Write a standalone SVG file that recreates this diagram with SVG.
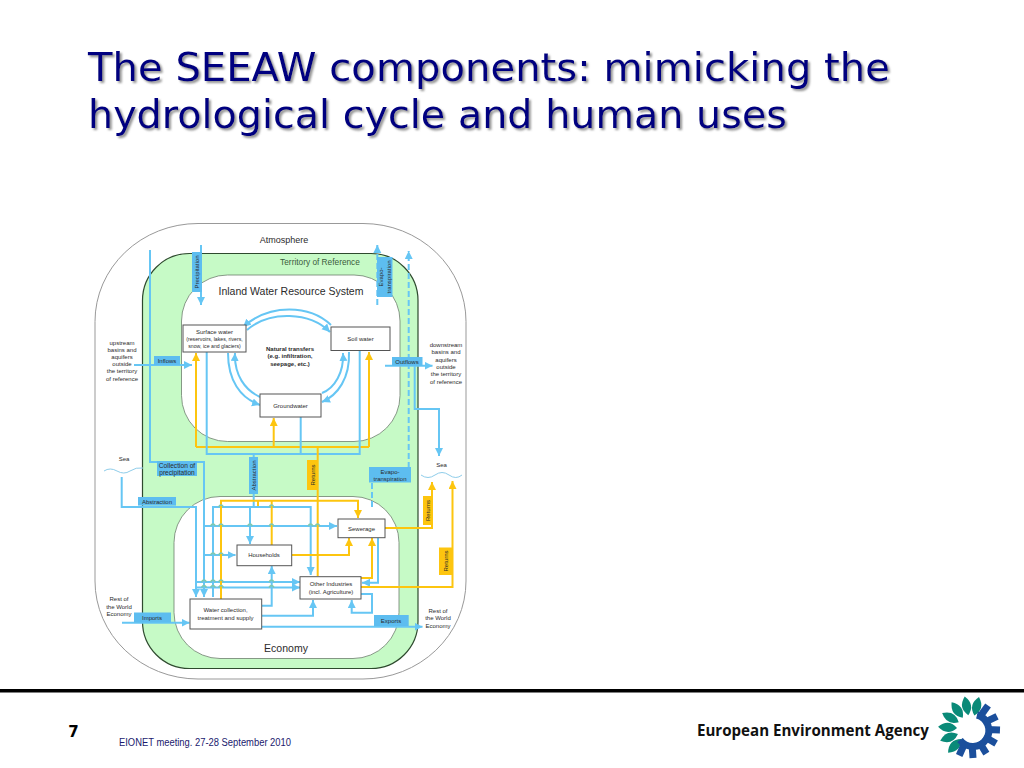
<svg xmlns="http://www.w3.org/2000/svg" width="1024" height="768" viewBox="0 0 1024 768">
<style>
text{font-family:"Liberation Sans",Arial,sans-serif;fill:#2b2b2b;text-anchor:middle}
.t{font-family:"DejaVu Sans",Verdana,sans-serif;font-size:39.500px;fill:#000080;text-anchor:start;filter:url(#sh)}
.s{font-size:6px}
.box{fill:#fff;stroke:#555;stroke-width:1}
.b{fill:none;stroke:#66c6f4;stroke-width:2}
.y{fill:none;stroke:#fdc50f;stroke-width:2}
.d{stroke-dasharray:6 3}
.ah{marker-end:url(#ab)}.ay{marker-end:url(#ay)}
.lb{fill:#5dbdf0}.ly{fill:#fdc50f}
</style>
<defs>
<filter id="sh" x="-5%" y="-10%" width="110%" height="125%"><feDropShadow dx="2" dy="2" stdDeviation="1" flood-color="#777" flood-opacity=".8"/></filter>
<marker id="ab" markerUnits="userSpaceOnUse" markerWidth="9" markerHeight="9" refX="8" refY="4" orient="auto"><path d="M0,0L8,4L0,8Z" fill="#66c6f4"/></marker>
<marker id="ay" markerUnits="userSpaceOnUse" markerWidth="9" markerHeight="9" refX="8" refY="4" orient="auto"><path d="M0,0L8,4L0,8Z" fill="#fdc50f"/></marker>
<path id="petal" d="M0,-14Q9,-23 0,-33Q-9,-23 0,-14Z"/>
<path id="tooth" d="M-3.500,-29h7v14h-7z"/>
</defs>
<rect width="1024" height="768" fill="#fff"/>
<text class="t" x="88" y="81" textLength="802" lengthAdjust="spacingAndGlyphs">The SEEAW components: mimicking the</text>
<text class="t" x="88" y="128" textLength="699" lengthAdjust="spacingAndGlyphs">hydrological cycle and human uses</text>

<g id="atmosphere"><rect x="95" y="223.500" width="371" height="455.500" rx="103" ry="98" fill="#fff" stroke="#999" stroke-width="1"/><text x="284" y="243" font-size="9">Atmosphere</text></g>
<g id="territory"><rect x="142.500" y="253.500" width="275.500" height="415" rx="47" ry="47" fill="#c6fac6" stroke="#2e4a2e" stroke-width="1.200"/><text x="320" y="264.500" font-size="8.300" style="fill:#3b5b3b">Territory of Reference</text></g>
<g id="inland"><rect x="181.500" y="275" width="218.500" height="166.500" rx="46" ry="46" fill="#fff" stroke="#6d7f6d" stroke-width=".8"/><text x="291" y="294.500" font-size="10.500">Inland Water Resource System</text></g>
<g id="economy"><rect x="174" y="496.500" width="225" height="162" rx="46" ry="46" fill="#fff" stroke="#6d7f6d" stroke-width=".8"/><text x="286" y="652" font-size="10.500">Economy</text></g>

<g id="connectors">
<path class="y" d="M196,447H369"/>
<path class="y ay" d="M196,447V353"/>
<path class="y ay" d="M369,447V352"/>
<path class="y ay" d="M273.700,447V418"/>
<path class="b" d="M206.700,352V454H359.700V351"/>
<path class="b" d="M300.700,417V454"/>
<path class="b ah" d="M150,250V462H204V597"/>
<path class="b ah" d="M201,245V305"/>
<path class="b ah" d="M134,365H192"/>
<path class="b ah" d="M385,365.700H432.500"/>
<path class="b ah" d="M414.700,366V409H439V456"/>
<path class="b d ah" d="M377.300,305V245"/>
<path class="b d ah" d="M408.700,468V251"/>
<path class="b d" d="M372,483V508"/>
<path class="b ah" d="M331,325C310,305 270,303 243,327"/>
<path class="b ah" d="M247,330C270,310 310,312 330,332"/>
<path class="b ah" d="M228,353C228,380 240,398 260,405"/>
<path class="b ah" d="M260,397C245,390 234,375 235,353"/>
<path class="b ah" d="M322,393C335,388 344,372 343,353"/>
<path class="b ah" d="M349,352C350,378 338,395 322,402"/>
<path class="b" d="M253.700,454V507"/>
<path class="b ah" d="M121.700,477V507H196V597"/>
<path class="b ah" d="M213,597V507H310.700V575"/>
<path class="b ah" d="M250,507V544"/>
<path class="b ah" d="M204,526H337"/>
<path class="b ah" d="M204,555H235.500"/>
<path class="b ah" d="M196,582H300"/>
<path class="b ah" d="M196,587.500H300"/>
<path class="b ah" d="M262,605.700H271.700V566"/>
<path class="b ah" d="M262,615.700H313V600"/>
<path class="b ah" d="M262,626.700H422.500"/>
<path class="b ah" d="M122,622.700H189.500"/>
<path class="b ah" d="M361,594H372V612.700H351.700V600"/>
<path class="b ah" d="M378,538V582.700H362"/>
<path class="y ay" d="M221,599V500.700H358V518"/>
<path class="y" d="M271.700,501V545"/>
<path class="y" d="M258,501V506"/>
<path class="y" d="M317.700,447V576"/>
<path class="y ay" d="M292,555H349V538"/>
<path class="y ay" d="M361,578H372V538"/>
<path class="y ay" d="M385,528H432V482"/>
<path class="y ay" d="M361,587H452.500V481"/>
<path d="M210.500,526q2.500,-4 5,0M218.500,526q2.500,-4 5,0M247.500,526q2.500,-4 5,0M269,526q2.500,-4 5,0M308,526q2.500,-4 5,0M315,526q2.500,-4 5,0M218.500,507q2.500,-4 5,0M269,507q2.500,-4 5,0M210.500,555q2.500,-4 5,0M218.500,555q2.500,-4 5,0M201.500,582q2.500,-4 5,0M210.500,582q2.500,-4 5,0M218.500,582q2.500,-4 5,0M269,582q2.500,-4 5,0M201.500,587.500q2.500,-4 5,0M210.500,587.500q2.500,-4 5,0M218.500,587.500q2.500,-4 5,0M269,587.500q2.500,-4 5,0" fill="none" stroke="#7fc9b0" stroke-width="1.500"/>
<path d="M104,471q6,-4 13,0t13,0t13,-3" fill="none" stroke="#8fcdea" stroke-width="1"/>
<path d="M421,475q7,5 14,0t14,0t13,0" fill="none" stroke="#8fcdea" stroke-width="1"/>
</g>

<g id="label-precipitation"><rect class="lb" x="192" y="252" width="10" height="40"/><text class="s" transform="translate(199,272) rotate(-90)">Precipitation</text></g>
<g id="label-evapo-top"><rect class="lb" x="377" y="257" width="15.500" height="40"/><text class="s" transform="translate(383,277) rotate(-90)">Evapo-</text><text class="s" transform="translate(391,277) rotate(-90)">transpiration</text></g>
<g id="label-inflows"><rect class="lb" x="154" y="356" width="26" height="9"/><text class="s" x="167" y="362.500">Inflows</text></g>
<g id="label-outflows"><rect class="lb" x="392" y="357" width="30.500" height="8.700"/><text class="s" x="407" y="363.500">Outflows</text></g>
<g id="label-collection"><rect class="lb" x="157" y="461" width="40" height="15"/><text class="s" x="177" y="467.500" style="font-size:6.600px">Collection of</text><text class="s" x="177" y="474.500" style="font-size:6.600px">precipitation</text></g>
<g id="label-abstraction-v"><rect class="lb" x="249" y="457" width="9" height="37"/><text class="s" transform="translate(255.500,475.500) rotate(-90)">Abstraction</text></g>
<g id="label-returns-1"><rect class="ly" x="307" y="460" width="11" height="30"/><text class="s" transform="translate(314.500,475) rotate(-90)">Returns</text></g>
<g id="label-evapo-low"><rect class="lb" x="369" y="467" width="42" height="15.500"/><text class="s" x="390" y="473.500">Evapo-</text><text class="s" x="390" y="480.500">transpiration</text></g>
<g id="label-abstraction-h"><rect class="lb" x="138" y="497" width="38" height="8.600"/><text class="s" x="157" y="503.500">Abstraction</text></g>
<g id="label-returns-2"><rect class="ly" x="423" y="496" width="9" height="29"/><text class="s" transform="translate(429.500,510.500) rotate(-90)">Returns</text></g>
<g id="label-returns-3"><rect class="ly" x="439" y="547.500" width="13" height="27.500"/><text class="s" transform="translate(447.500,561) rotate(-90)">Returns</text></g>
<g id="label-imports"><rect class="lb" x="134" y="612.500" width="37" height="10"/><text class="s" x="152" y="620">Imports</text></g>
<g id="label-exports"><rect class="lb" x="374" y="615" width="34.700" height="11"/><text class="s" x="391" y="622.500">Exports</text></g>

<g id="surface-water"><rect class="box" x="183" y="325" width="63" height="27"/><text class="s" x="214.500" y="334">Surface water</text><text x="214.500" y="341" font-size="5.200">(reservoirs, lakes, rivers,</text><text x="214.500" y="347.500" font-size="5.200">snow, ice and glaciers)</text></g>
<g id="soil-water"><rect class="box" x="331" y="327" width="59" height="23.500"/><text class="s" x="360.500" y="341">Soil water</text></g>
<g id="groundwater"><rect class="box" x="260" y="394" width="61" height="23"/><text class="s" x="290.500" y="407.500">Groundwater</text></g>
<g id="natural-transfers"><text class="s" x="290" y="351" font-weight="bold">Natural transfers</text><text class="s" x="290" y="358" font-weight="bold">(e.g. infiltration,</text><text class="s" x="290" y="365.500" font-weight="bold">seepage, etc.)</text></g>
<g id="sewerage"><rect class="box" x="338" y="519" width="47" height="18.700"/><text class="s" x="361.500" y="530.500">Sewerage</text></g>
<g id="households"><rect class="box" x="237" y="545" width="54.700" height="20.700"/><text class="s" x="264" y="557">Households</text></g>
<g id="other-industries"><rect class="box" x="300" y="576.700" width="61" height="22.300"/><text class="s" x="331" y="586">Other Industries</text><text class="s" x="331" y="593.500">(incl. Agriculture)</text></g>
<g id="water-collection"><rect class="box" x="190" y="599" width="71.700" height="30"/><text class="s" x="225.500" y="612">Water collection,</text><text class="s" x="225.500" y="619.500">treatment and supply</text></g>

<g id="upstream"><text class="s" x="122" y="345">upstream</text><text class="s" x="122" y="352">basins and</text><text class="s" x="122" y="359">aquifers</text><text class="s" x="122" y="366">outside</text><text class="s" x="122" y="373">the territory</text><text class="s" x="122" y="380.500">of reference</text></g>
<g id="downstream"><text class="s" x="446" y="347">downstream</text><text class="s" x="446" y="354">basins and</text><text class="s" x="446" y="361.500">aquifers</text><text class="s" x="446" y="369">outside</text><text class="s" x="446" y="376">the territory</text><text class="s" x="446" y="383.500">of reference</text></g>
<g id="sea-left"><text class="s" x="124" y="461">Sea</text></g>
<g id="sea-right"><text class="s" x="441.500" y="467">Sea</text></g>
<g id="rest-left"><text class="s" x="119" y="601">Rest of</text><text class="s" x="119" y="608.500">the World</text><text class="s" x="119" y="616">Economy</text></g>
<g id="rest-right"><text class="s" x="438" y="612.500">Rest of</text><text class="s" x="438" y="620">the World</text><text class="s" x="438" y="628">Economy</text></g>

<rect x="0" y="689" width="1024" height="3.500" fill="#000"/>
<text x="73.500" y="737" font-size="15" font-weight="bold" style="fill:#000;font-family:'DejaVu Sans',sans-serif">7</text>
<text x="119" y="746" font-size="10" textLength="172" lengthAdjust="spacingAndGlyphs" style="text-anchor:start;fill:#1a1a6e">EIONET meeting. 27-28 September 2010</text>
<text x="697" y="736" font-size="15.100" font-weight="bold" style="text-anchor:start;fill:#111;font-family:'Open Sans',sans-serif">European Environment Agency</text>
<g id="eea-logo" transform="translate(971,729)">
<g fill="#0a8a78"><use href="#petal" transform="rotate(14)"/><use href="#petal" transform="rotate(-11)"/><use href="#petal" transform="rotate(-36)"/><use href="#petal" transform="rotate(-61)"/><use href="#petal" transform="rotate(-86)"/><use href="#petal" transform="rotate(-111)"/><use href="#petal" transform="rotate(-136)"/></g>
<g fill="#1b4f9c"><use href="#tooth" transform="rotate(36)"/><use href="#tooth" transform="rotate(64)"/><use href="#tooth" transform="rotate(92)"/><use href="#tooth" transform="rotate(120)"/><use href="#tooth" transform="rotate(148)"/><use href="#tooth" transform="rotate(176)"/><use href="#tooth" transform="rotate(204)"/></g>
<path d="M6,-14A16,16 0 1 1 -11,11" fill="none" stroke="#1b4f9c" stroke-width="7"/>
</g>
</svg>
